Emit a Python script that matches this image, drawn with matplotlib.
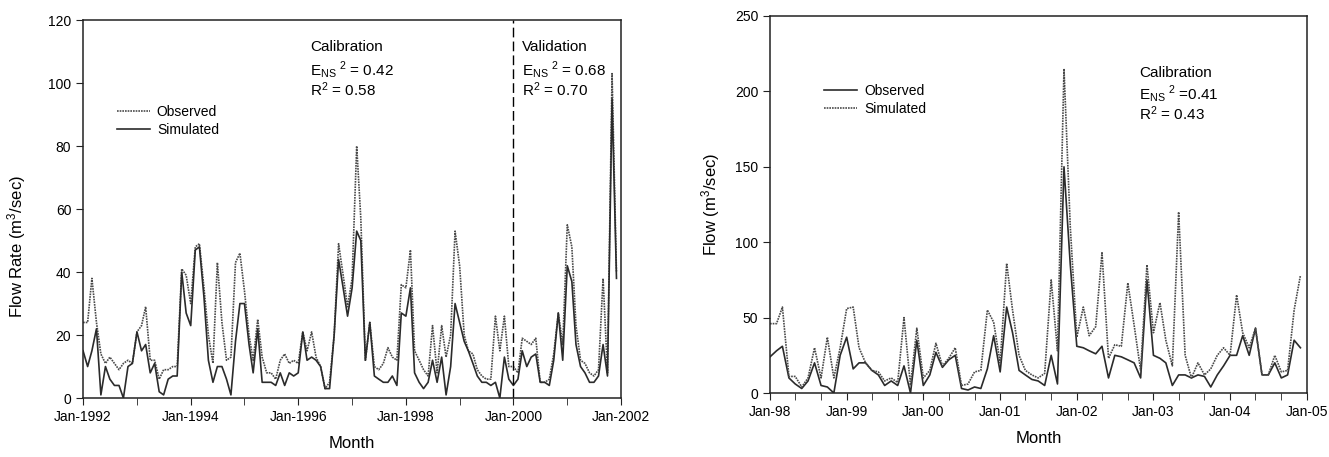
import matplotlib
matplotlib.use("Agg")
import matplotlib.pyplot as plt
import matplotlib.dates as mdates
import pandas as pd

plt.rcParams["font.family"] = ["Liberation Sans", "DejaVu Sans"]

# left panel: monthly flow 1992-2001
left_months = pd.date_range("1992-01-01", periods=120, freq="MS")
left_observed = [
    24, 24, 38, 24, 14, 11, 13, 11, 9, 11, 12, 11,
    21, 23, 29, 12, 12, 6, 9, 9, 10, 10, 41, 39,
    30, 48, 49, 35, 20, 11, 43, 24, 12, 13, 43, 46,
    34, 20, 12, 25, 13, 8, 8, 6, 12, 14, 11, 12,
    11, 21, 15, 21, 13, 10, 3, 5, 20, 49, 39, 29,
    38, 80, 57, 12, 24, 10, 9, 11, 16, 13, 12, 36,
    35, 47, 15, 12, 9, 7, 23, 8, 23, 13, 20, 53,
    42, 20, 15, 14, 9, 7, 6, 6, 26, 15, 26, 10,
    10, 8, 19, 18, 17, 19, 5, 5, 6, 14, 27, 17,
    55, 48, 23, 12, 11, 8, 7, 9, 38, 8, 103, 40,
]
left_simulated = [
    15, 10, 15, 22, 1, 10, 6, 4, 4, 0, 10, 11,
    21, 15, 17, 8, 11, 2, 1, 6, 7, 7, 40, 27,
    23, 47, 48, 32, 12, 5, 10, 10, 6, 1, 18, 30,
    30, 17, 8, 22, 5, 5, 5, 4, 8, 4, 8, 7,
    8, 21, 12, 13, 12, 10, 3, 3, 20, 44, 35, 26,
    35, 53, 50, 12, 24, 7, 6, 5, 5, 7, 4, 27,
    26, 35, 8, 5, 3, 5, 12, 5, 13, 1, 10, 30,
    24, 18, 15, 11, 7, 5, 5, 4, 5, 0, 13, 6,
    4, 6, 15, 10, 13, 14, 5, 5, 4, 12, 27, 12,
    42, 37, 17, 10, 8, 5, 5, 7, 17, 7, 95, 38,
]

# right panel: monthly flow 1998-2004
right_months = pd.date_range("1998-01-01", periods=84, freq="MS")
right_observed = [
    24, 28, 31, 10, 6, 3, 8, 20, 5, 4, 0, 25,
    37, 16, 20, 20, 15, 12, 5, 8, 5, 18, 0, 35,
    5, 12, 27, 17, 22, 25, 3, 2, 4, 3, 16, 38,
    14, 57, 40, 15, 12, 9, 8, 5, 25, 6, 150, 85,
    31, 30, 28, 26, 31, 10, 25, 24, 22, 20, 10, 75,
    25, 23, 20, 5, 12, 12, 10, 12, 11, 4, 12, 18,
    25, 25, 38, 25, 43, 12, 12, 20, 10, 12, 35, 30,
]
right_simulated = [
    46, 46, 57, 11, 11, 4, 10, 30, 10, 37, 10, 30,
    56, 57, 30, 20, 15, 14, 8, 10, 7, 50, 5, 43,
    10, 15, 33, 18, 23, 30, 5, 6, 14, 15, 55, 47,
    20, 86, 55, 25, 15, 12, 10, 13, 75, 28, 215, 110,
    37, 57, 38, 44, 93, 23, 32, 31, 73, 45, 15, 85,
    40, 60, 35, 18, 120, 25, 10, 20, 12, 16, 25, 30,
    25, 65, 40, 30, 43, 12, 12, 25, 14, 15, 55, 78,
]

solid = dict(color="#2b2b2b", lw=1.2)
dotted = dict(color="#4a4a4a", lw=1.2, linestyle=(0, (1.0, 0.6)))

fig = plt.figure(figsize=(13.29, 4.57), dpi=100)
ax1 = fig.add_axes([0.0625, 0.129, 0.4048, 0.827])
ax2 = fig.add_axes([0.5794, 0.140, 0.4040, 0.825])

# left
ax1.plot(left_months, left_observed, label="Observed", **dotted)
ax1.plot(left_months, left_simulated, label="Simulated", **solid)
ax1.axvline(pd.Timestamp("2000-01-01"), color="black", lw=1.0, dashes=(7, 3))
ax1.set_xlim(pd.Timestamp("1992-01-01"), pd.Timestamp("2002-01-01"))
ax1.set_ylim(0, 120)
ax1.set_yticks(range(0, 121, 20))
ax1.xaxis.set_major_locator(mdates.YearLocator(2))
ax1.xaxis.set_minor_locator(mdates.YearLocator(1))
ax1.xaxis.set_major_formatter(mdates.DateFormatter("%b-%Y"))
ax1.set_xlabel("Month", fontsize=12, labelpad=9)
ax1.set_ylabel("Flow Rate (m$\\mathregular{^3}$/sec)", fontsize=12)
ax1.yaxis.set_label_coords(-0.102, 0.40)
ax1.legend(loc="upper left", bbox_to_anchor=(0.052, 0.79), frameon=False,
           fontsize=10, handlelength=2.4, handletextpad=0.5, labelspacing=0.3,
           borderaxespad=0)
ax1.text(0.422, 0.929, "Calibration", transform=ax1.transAxes, fontsize=11, va="center")
ax1.text(0.422, 0.868, "$\\mathregular{E_{NS}}^{\\mathregular{\\ 2}}$ = 0.42",
         transform=ax1.transAxes, fontsize=11, va="center")
ax1.text(0.422, 0.815, "$\\mathregular{R^2}$ = 0.58", transform=ax1.transAxes,
         fontsize=11, va="center")
ax1.text(0.816, 0.929, "Validation", transform=ax1.transAxes, fontsize=11, va="center")
ax1.text(0.816, 0.868, "$\\mathregular{E_{NS}}^{\\mathregular{\\ 2}}$ = 0.68",
         transform=ax1.transAxes, fontsize=11, va="center")
ax1.text(0.816, 0.815, "$\\mathregular{R^2}$ = 0.70", transform=ax1.transAxes,
         fontsize=11, va="center")

# right
ax2.plot(right_months, right_observed, label="Observed", **solid)
ax2.plot(right_months, right_simulated, label="Simulated", **dotted)
ax2.set_xlim(pd.Timestamp("1998-01-01"), pd.Timestamp("2005-01-01"))
ax2.set_ylim(0, 250)
ax2.set_yticks(range(0, 251, 50))
ax2.xaxis.set_major_locator(mdates.YearLocator(1))
ax2.xaxis.set_minor_locator(mdates.MonthLocator(bymonth=[1, 5, 9]))
ax2.xaxis.set_major_formatter(mdates.DateFormatter("%b-%y"))
ax2.set_xlabel("Month", fontsize=12, labelpad=9)
ax2.set_ylabel("Flow (m$\\mathregular{^3}$/sec)", fontsize=12)
ax2.yaxis.set_label_coords(-0.089, 0.50)
ax2.legend(loc="upper left", bbox_to_anchor=(0.09, 0.835), frameon=False,
           fontsize=10, handlelength=2.4, handletextpad=0.5, labelspacing=0.3,
           borderaxespad=0)
ax2.text(0.688, 0.849, "Calibration", transform=ax2.transAxes, fontsize=11, va="center")
ax2.text(0.688, 0.793, "$\\mathregular{E_{NS}}^{\\mathregular{\\ 2}}$ =0.41",
         transform=ax2.transAxes, fontsize=11, va="center")
ax2.text(0.688, 0.740, "$\\mathregular{R^2}$ = 0.43", transform=ax2.transAxes,
         fontsize=11, va="center")

for ax in (ax1, ax2):
    for side in ("top", "bottom", "left", "right"):
        ax.spines[side].set_color("#222222")
        ax.spines[side].set_linewidth(1.1)
    ax.tick_params(which="both", direction="out", top=False, right=False,
                   labelsize=10, color="#222222")
    ax.tick_params(which="major", length=5)
    ax.tick_params(which="minor", length=5)
    for lab in ax.get_xticklabels():
        lab.set_horizontalalignment("center")

fig.savefig("out.png", dpi=100)
